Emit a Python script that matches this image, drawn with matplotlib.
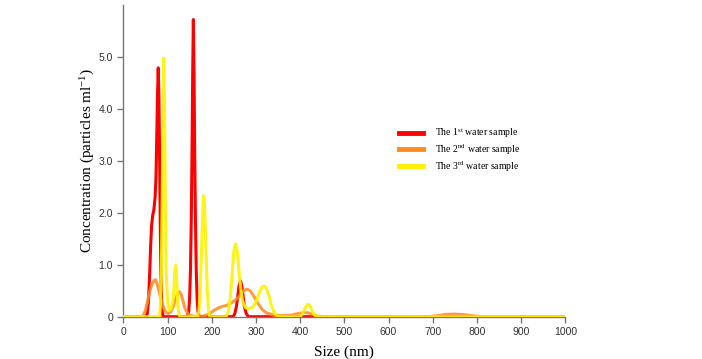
import matplotlib
matplotlib.use("Agg")
import matplotlib.pyplot as plt

# ---- data (size in nm, concentration) ----
red_x = [0, 50, 54, 57, 60, 62, 64, 66.5, 69, 72, 74, 76, 77.5, 79, 80.5, 82, 83.5, 85, 86.5, 88, 90,
         145, 148, 150, 152, 154, 155.5, 157, 158.5, 160, 161.5, 163, 165, 167, 169, 172,
         248, 252, 256, 259, 262, 265, 268, 271, 274, 278, 283, 1000]
red_y = [0, 0, 0.05, 0.3, 0.9, 1.4, 1.75, 1.95, 2.05, 2.3, 2.7, 3.6, 4.3, 4.79, 4.3, 3.2, 1.9, 0.9, 0.35, 0.1, 0,
         0, 0.1, 0.35, 0.9, 2.0, 3.2, 4.7, 5.72, 4.7, 3.2, 2.0, 0.9, 0.35, 0.1, 0,
         0, 0.05, 0.2, 0.4, 0.6, 0.69, 0.6, 0.4, 0.2, 0.06, 0, 0]

orange_x = [0, 40, 45, 50, 55, 60, 65, 70, 73, 77, 82, 87, 92, 97, 102, 108, 113, 118, 123, 127, 131,
            135, 140, 145, 150, 160, 175, 185, 195, 205, 215, 225, 235, 245, 255, 265, 272, 280, 287,
            295, 305, 315, 325, 340, 360, 380, 395, 410, 420, 430, 440, 455, 690, 710, 730, 750, 770,
            790, 810, 1000]
orange_y = [0, 0, 0.02, 0.12, 0.3, 0.5, 0.63, 0.7, 0.71, 0.62, 0.45, 0.28, 0.15, 0.08, 0.06, 0.1, 0.2,
            0.33, 0.45, 0.48, 0.43, 0.3, 0.15, 0.07, 0.03, 0.01, 0, 0.02, 0.06, 0.12, 0.17, 0.2, 0.22,
            0.27, 0.33, 0.42, 0.5, 0.53, 0.5, 0.4, 0.25, 0.13, 0.07, 0.03, 0.02, 0.03, 0.06, 0.08, 0.07,
            0.04, 0.01, 0, 0, 0.02, 0.045, 0.05, 0.04, 0.02, 0, 0]

yellow_x = [0, 82, 84, 86, 88, 90, 91.5, 93, 95, 97, 99, 101, 104, 108, 112, 115, 117, 118.5, 120, 122,
            124, 127, 130, 168, 171, 174, 177, 180, 182, 184, 187, 190, 193, 196, 232, 238, 242, 246,
            250, 254, 258, 262, 266, 270, 276, 283, 290, 296, 302, 308, 314, 318, 322, 328, 334, 340,
            346, 352, 400, 405, 410, 415, 419, 423, 428, 433, 440, 1000]
yellow_y = [0, 0, 0.2, 0.8, 2.2, 4.2, 4.98, 4.2, 2.2, 0.9, 0.45, 0.25, 0.12, 0.15, 0.3, 0.6, 0.9, 0.99,
            0.85, 0.45, 0.15, 0.02, 0, 0, 0.1, 0.5, 1.3, 2.1, 2.33, 2.1, 1.3, 0.5, 0.1, 0, 0, 0.1, 0.35,
            0.8, 1.25, 1.4, 1.25, 0.85, 0.5, 0.3, 0.18, 0.15, 0.17, 0.22, 0.32, 0.47, 0.57, 0.59, 0.57,
            0.45, 0.25, 0.1, 0.03, 0, 0, 0.05, 0.14, 0.22, 0.24, 0.2, 0.1, 0.03, 0, 0]

labels = ["The 1$^{\\rm st}$ water sample",
          "The 2$^{\\rm nd}$ water sample",
          "The 3$^{\\rm rd}$ water sample"]
x_ticks = [0, 100, 200, 300, 400, 500, 600, 700, 800, 900, 1000]
y_ticks = [0, 1, 2, 3, 4, 5]
y_tick_labels = ["0", "1.0", "2.0", "3.0", "4.0", "5.0"]

plt.rcParams['mathtext.fontset'] = 'custom'
plt.rcParams['mathtext.rm'] = 'Liberation Serif'
plt.rcParams['mathtext.it'] = 'Liberation Serif:italic'

fig = plt.figure(figsize=(7.02, 3.59), dpi=100)
ax = fig.add_axes([123.3 / 702, 1 - 316.7 / 359, 442 / 702, 311.7 / 359])

ax.plot(red_x, red_y, color="#FF0000", lw=2.2, label=labels[0], zorder=2)
ax.plot(orange_x, orange_y, color="#FF8A1F", lw=2.2, alpha=0.85, label=labels[1], zorder=3)
ax.plot(yellow_x, yellow_y, color="#FFF200", lw=2.2, alpha=0.9, label=labels[2], zorder=4)

ax.set_xlim(0, 1000)
ax.set_ylim(0, 6.0)
ax.set_xticks(x_ticks)
ax.set_xticklabels([str(v) for v in x_ticks])
ax.set_yticks(y_ticks)
ax.set_yticklabels(y_tick_labels)

for s in ["top", "right"]:
    ax.spines[s].set_visible(False)
for s in ["left", "bottom"]:
    ax.spines[s].set_color("#777777")
    ax.spines[s].set_linewidth(1.0)
ax.tick_params(axis="both", colors="#777777", length=4, width=1, labelsize=7.5, labelcolor="#333333")
for lab in ax.get_xticklabels() + ax.get_yticklabels():
    lab.set_family("Liberation Sans")

ax.set_xlabel("Size (nm)", family="Liberation Serif", fontsize=11, labelpad=6)
ax.set_ylabel("Concentration (particles ml$^{-1}$)", family="Liberation Serif", fontsize=11, labelpad=1)

leg = fig.legend(handles=ax.get_lines(), labels=labels, loc="center left",
                 bbox_to_anchor=(399 / 702, 1 - 150 / 359), frameon=False,
                 prop={"family": "Liberation Serif", "size": 7},
                 handlelength=2.5, handletextpad=1.2, labelspacing=0.25, borderpad=0, borderaxespad=0)
for h in leg.legend_handles:
    h.set_linewidth(3.5)
    h.set_alpha(1)

fig.savefig("out.png", dpi=100)
